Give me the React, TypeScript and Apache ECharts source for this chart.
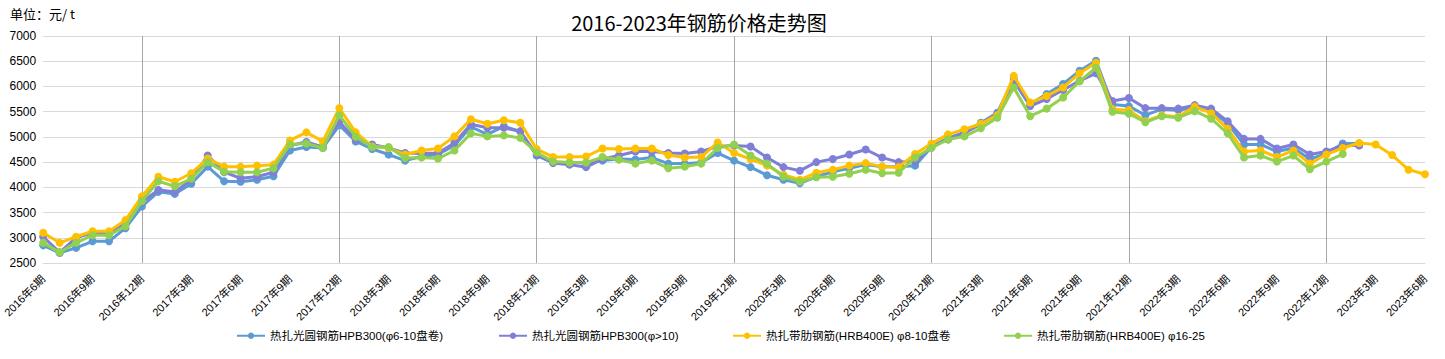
import React, { useEffect, useRef } from "react";
import * as echarts from "echarts";

const seriesNames = [
  "热扎光圆钢筋HPB300(φ6-10盘卷)",
  "热扎光圆钢筋HPB300(φ>10)",
  "热扎带肋钢筋(HRB400E) φ8-10盘卷",
  "热扎带肋钢筋(HRB400E) φ16-25",
];
const seriesColors = ["#5B9BD5", "#7F7FD8", "#FFC000", "#92D050"];

// 2016年6期 ... 2023年6期 (monthly)
const categories: string[] = [];
for (let y = 2016, m = 6; y < 2023 || (y === 2023 && m <= 6); ) {
  categories.push(`${y}年${m}期`);
  m++;
  if (m > 12) {
    m = 1;
    y++;
  }
}

const hpb300Small = [
  2850, 2700, 2800, 2930, 2930, 3190, 3620, 3910, 3870, 4070, 4410, 4120,
  4110, 4150, 4220, 4730, 4800, 4780, 5230, 4910, 4760, 4650, 4530, 4610,
  4650, 4830, 5200, 5050, 5210, 5110, 4630, 4490, 4490, 4480, 4530, 4560,
  4550, 4590, 4470, 4470, 4490, 4680, 4530, 4400, 4240, 4150, 4080, 4210,
  4310, 4380, 4450, 4410, 4410, 4430, 4800, 4980, 5090, 5280, 5480, 6150,
  5650, 5850, 6050, 6310, 6510, 5640, 5610, 5430, 5550, 5530, 5580, 5510,
  5270, 4850, 4850, 4710, 4780, 4560, 4670, 4870, 4870,
];
const hpb300Large = [
  3020, 2710, 3000, 3100, 3090, 3300, 3710, 3950, 3910, 4150, 4630, 4300,
  4180, 4210, 4300, 4830, 4900, 4800, 5300, 4950, 4850, 4780, 4680, 4670,
  4680, 4880, 5250, 5180, 5180, 5110, 4650, 4480, 4450, 4400, 4560, 4630,
  4710, 4710, 4680, 4670, 4710, 4810, 4830, 4810, 4590, 4400, 4330, 4500,
  4560, 4650, 4750, 4590, 4500, 4510, 4810, 4950, 5080, 5250, 5450, 6110,
  5610, 5750, 5930, 6110, 6260, 5710, 5770, 5570, 5570, 5560, 5630, 5560,
  5310, 4960, 4960, 4770, 4850, 4650, 4710, 4830, 4830,
];
const hrb400Small = [
  3100, 2900, 3020, 3130, 3130, 3350, 3820, 4210, 4110, 4280, 4570, 4410,
  4410, 4430, 4450, 4930, 5090, 4910, 5570, 5090, 4810, 4780, 4650, 4730,
  4770, 5010, 5350, 5260, 5330, 5280, 4760, 4600, 4600, 4610, 4770, 4760,
  4770, 4770, 4640, 4590, 4600, 4890, 4680, 4560, 4430, 4250, 4150, 4290,
  4350, 4430, 4480, 4410, 4400, 4660, 4870, 5050, 5150, 5260, 5430, 6210,
  5680, 5810, 5980, 6260, 6470, 5550, 5530, 5310, 5430, 5400, 5600, 5470,
  5160, 4710, 4730, 4600, 4730, 4470, 4650, 4780, 4880, 4850, 4640, 4350,
  4260,
];
const hrb400Large = [
  2900, 2710, 2900, 3050, 3050, 3230, 3730, 4120, 4020, 4170, 4500, 4310,
  4300, 4300, 4380, 4850, 4870, 4780, 5430, 5000, 4800, 4800, 4580, 4590,
  4570, 4730, 5070, 5010, 5030, 4980, 4690, 4510, 4490, 4490, 4600, 4550,
  4470, 4530, 4380, 4410, 4470, 4780, 4850, 4630, 4470, 4210, 4110, 4200,
  4210, 4270, 4350, 4280, 4290, 4590, 4780, 4950, 5010, 5170, 5380, 5980,
  5410, 5560, 5780, 6100, 6370, 5500, 5460, 5290, 5410, 5380, 5510, 5360,
  5070, 4590, 4630, 4510, 4630, 4360, 4510, 4660,
];
const seriesData = [hpb300Small, hpb300Large, hrb400Small, hrb400Large];

const yTicks = { min: 2500, max: 7000, interval: 500 };
const legendLefts = [236, 498, 732, 1003];

const FONT = "'Liberation Sans', 'Noto Sans CJK SC', sans-serif";

export default function App() {
  const ref = useRef<HTMLDivElement>(null);
  useEffect(() => {
    if (!ref.current) return;
    const chart = echarts.init(ref.current, undefined, { renderer: "svg" });
    chart.setOption({
      animation: false,
      backgroundColor: "#ffffff",
      textStyle: { fontFamily: FONT },
      grid: { left: 40, right: 20, top: 36, bottom: 96, containLabel: false },
      graphic: [
        {
          type: "text",
          left: 10,
          top: 7,
          style: {
            text: "单位：元/ t",
            fontSize: 13,
            fill: "#000",
            fontFamily: "'Noto Sans CJK SC', sans-serif",
          },
        },
        {
          type: "text",
          x: 699,
          y: 22,
          style: {
            text: "2016-2023年钢筋价格走势图",
            fontSize: 20,
            fill: "#000",
            align: "center",
            verticalAlign: "middle",
            fontFamily: "'Noto Sans CJK SC', sans-serif",
          },
        },
      ],
      legend: seriesNames.map((n, i) => ({
        data: [n],
        left: legendLefts[i],
        top: 330,
        padding: 0,
        itemWidth: 28,
        itemHeight: 8,
        textStyle: { fontSize: 11.5, color: "#000", fontFamily: FONT },
      })),
      xAxis: {
        type: "category",
        data: categories,
        boundaryGap: false,
        axisLine: { lineStyle: { color: "#d9d9d9" } },
        axisTick: { show: false },
        axisLabel: {
          interval: 2,
          rotate: 45,
          fontSize: 11,
          color: "#000",
          margin: 14,
          fontFamily: FONT,
        },
        splitLine: {
          show: true,
          interval: (index: number) => index % 12 === 6,
          lineStyle: { color: "#a6a6a6", width: 1 },
        },
      },
      yAxis: {
        type: "value",
        min: yTicks.min,
        max: yTicks.max,
        interval: yTicks.interval,
        axisLine: { show: false },
        axisTick: { show: false },
        axisLabel: {
          fontSize: 12,
          color: "#000",
          margin: 7,
          fontFamily: FONT,
          formatter: (v: number) => String(v),
        },
        splitLine: { lineStyle: { color: "#d9d9d9" } },
      },
      series: seriesNames.map((n, i) => ({
        name: n,
        type: "line",
        data: seriesData[i],
        symbol: "circle",
        symbolSize: 8,
        lineStyle: { width: 3, color: seriesColors[i] },
        itemStyle: { color: seriesColors[i] },
        z: 2 + i,
      })),
    });
    return () => chart.dispose();
  }, []);
  return (
    <div
      ref={ref}
      style={{ position: "fixed", left: 0, top: 0, width: 1445, height: 359 }}
    />
  );
}
